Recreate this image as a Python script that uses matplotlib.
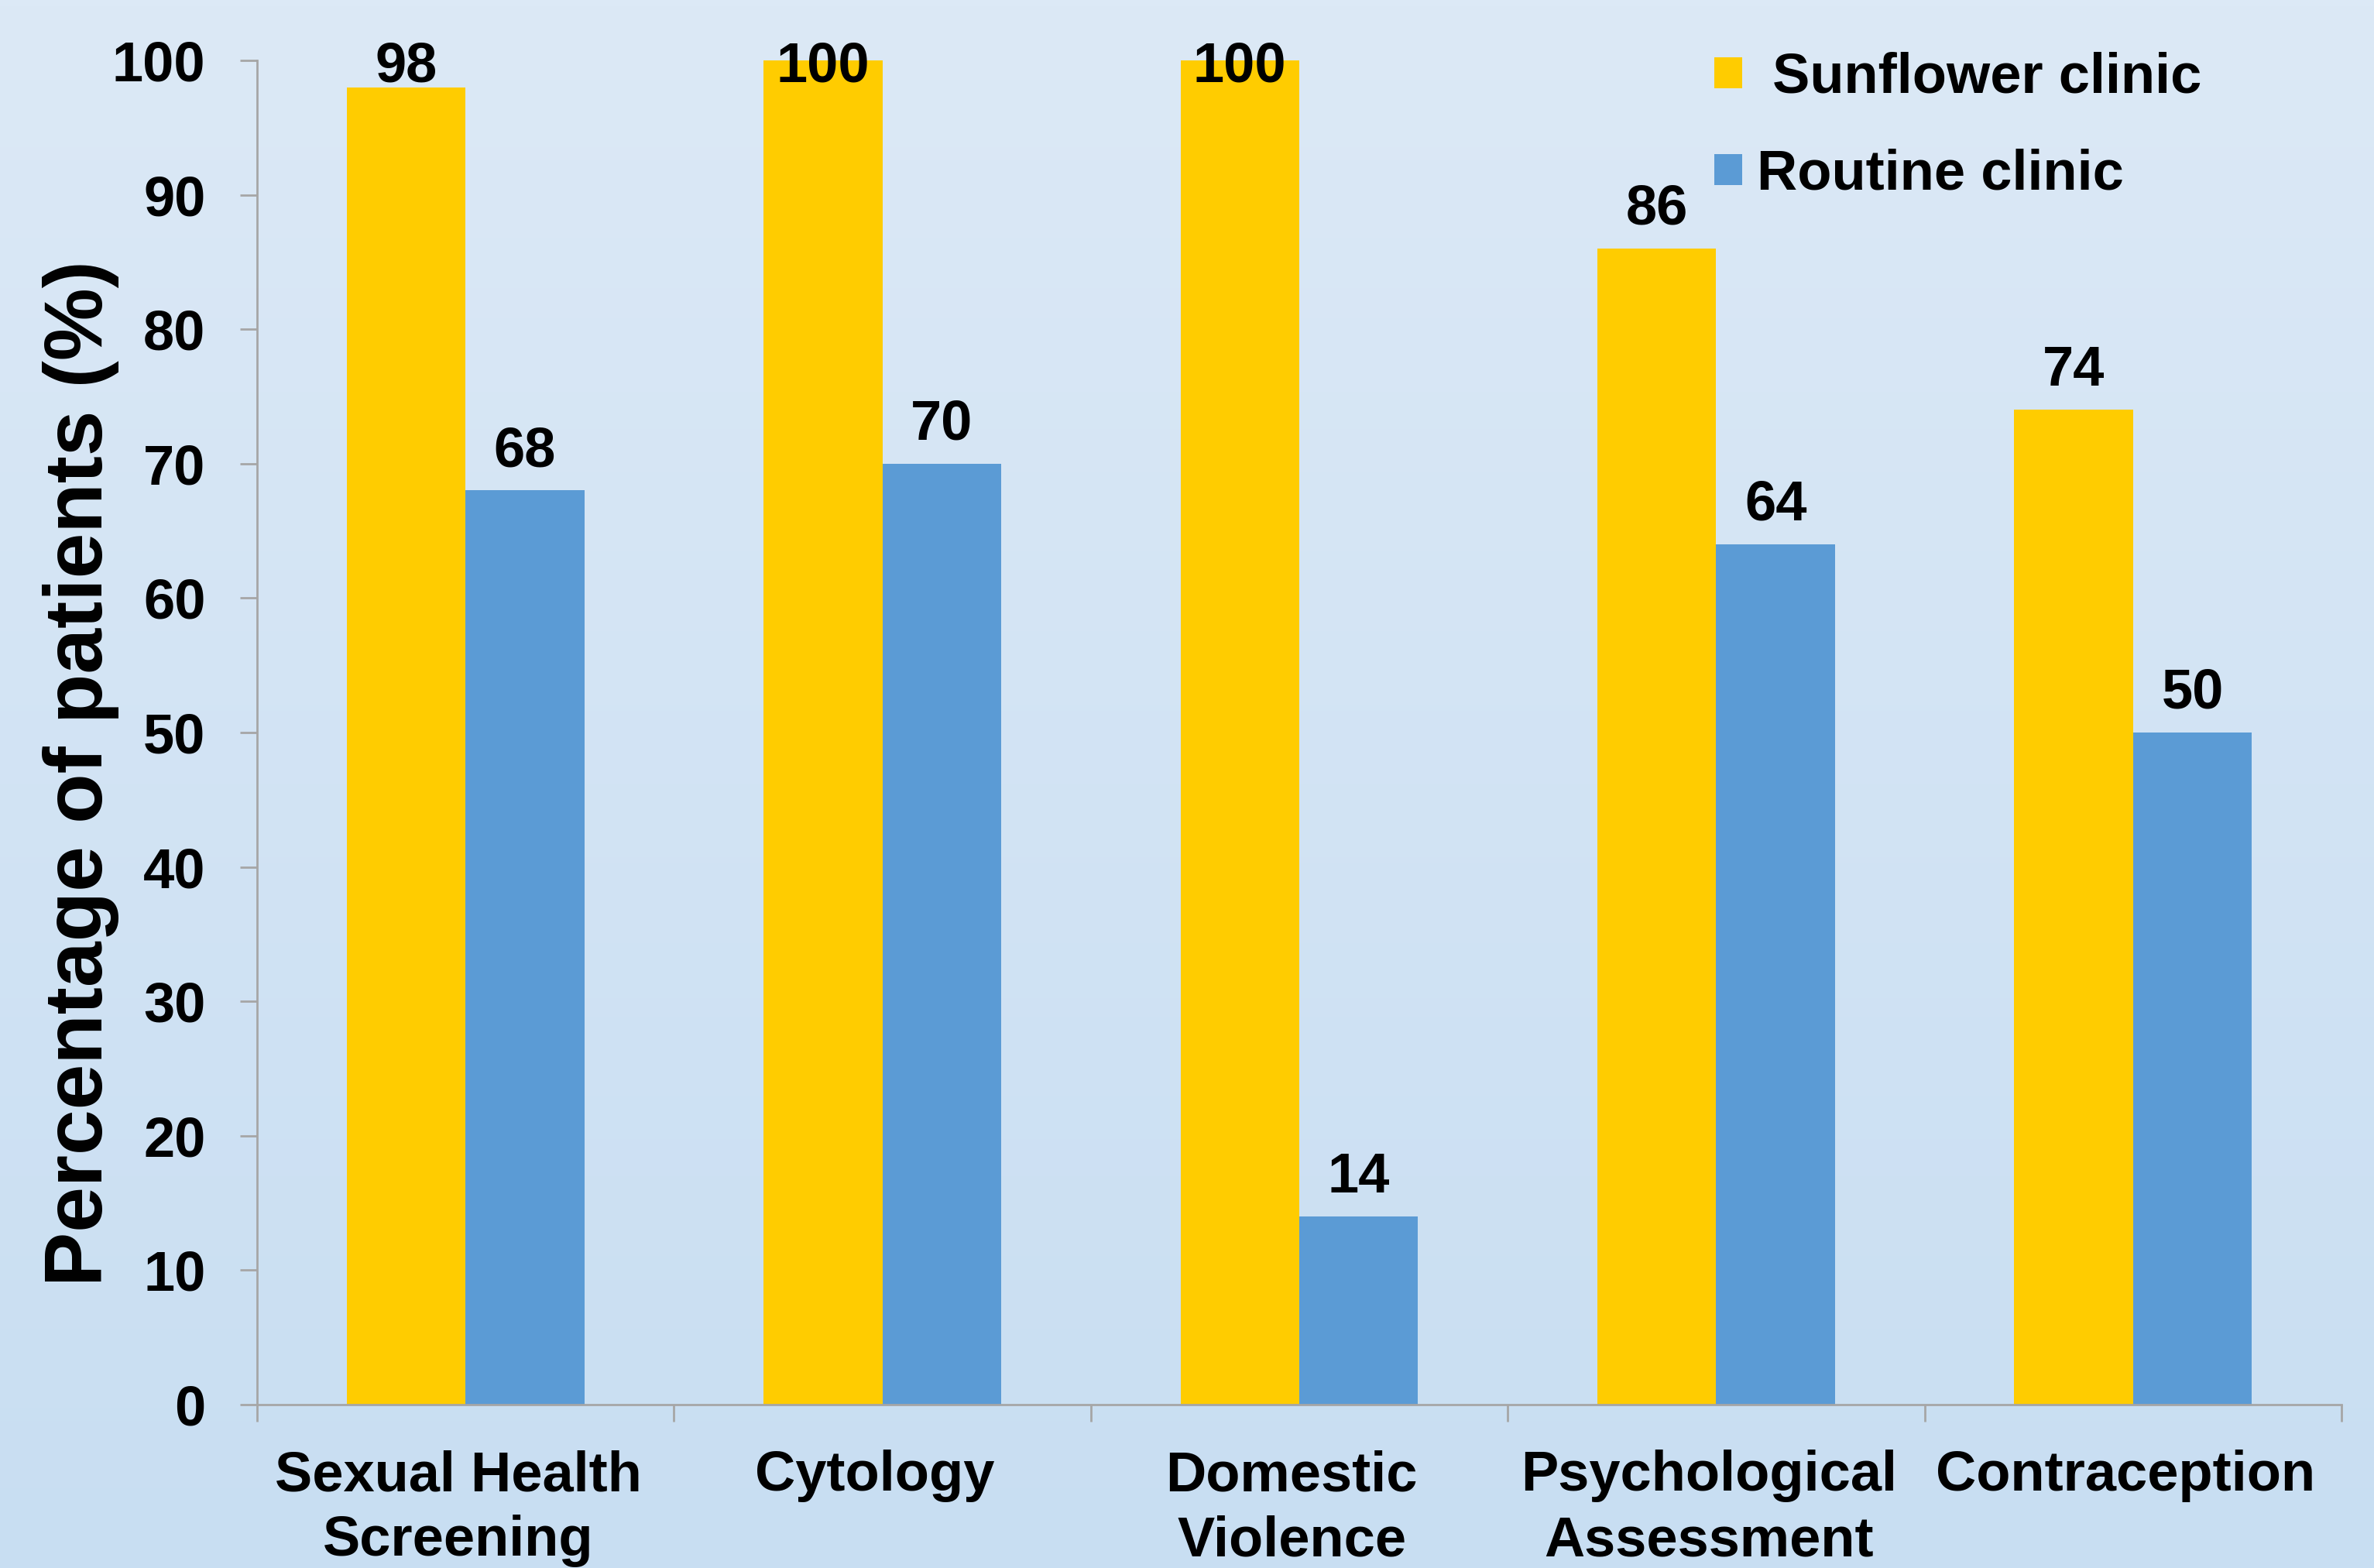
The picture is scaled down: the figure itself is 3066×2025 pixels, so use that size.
import matplotlib
matplotlib.use("Agg")
import matplotlib.pyplot as plt
import numpy as np

# datos
categorias = ["Sexual Health\nScreening", "Cytology", "Domestic\nViolence",
              "Psychological\nAssessment", "Contraception"]
sunflower = [98, 100, 100, 86, 74]
routine = [68, 70, 14, 64, 50]
y_ticks = [0, 10, 20, 30, 40, 50, 60, 70, 80, 90, 100]

amarillo = "#FFCC00"
azul = "#5B9BD5"
gris = "#A6A6A6"

plt.rcParams["font.family"] = ["Liberation Sans", "DejaVu Sans"]
plt.rcParams["font.weight"] = "bold"

fig = plt.figure(figsize=(15.33, 10.125), dpi=200)

# fondo degradado azul claro
fondo = fig.add_axes([0, 0, 1, 1], zorder=-10)
grad = np.linspace(0, 1, 256).reshape(-1, 1)
top = np.array([220, 233, 246]) / 255
bot = np.array([200, 222, 242]) / 255
img = top + (bot - top) * grad[:, :, None]
fondo.imshow(img, aspect="auto", extent=[0, 1, 0, 1])
fondo.axis("off")

ax = fig.add_axes([0.1083, 0.1042, 0.878, 0.8573])
ax.set_facecolor("none")

x = np.arange(len(categorias))
w = 0.285
ax.bar(x - w / 2, sunflower, w, color=amarillo, label=" Sunflower clinic")
ax.bar(x + w / 2, routine, w, color=azul, label="Routine clinic")

for xi, v in zip(x - w / 2, sunflower):
    ax.text(xi, min(v + 2.9, 99.5), str(v), ha="center", va="center",
            fontsize=26, fontweight="bold", clip_on=False)
for xi, v in zip(x + w / 2, routine):
    ax.text(xi, min(v + 2.9, 99.5), str(v), ha="center", va="center",
            fontsize=26, fontweight="bold", clip_on=False)

ax.set_xlim(-0.5, len(categorias) - 0.5)
ax.set_ylim(0, 100)
ax.set_yticks(y_ticks)
ax.set_yticklabels([str(t) for t in y_ticks], fontsize=26, fontweight="bold")

# las etiquetas del original estan un poco corridas a la izquierda
ax.set_xticks(x - 0.018)
ax.set_xticklabels(categorias, fontsize=26, fontweight="bold", linespacing=1.3)
ax.set_xticks(np.arange(len(categorias) + 1) - 0.5, minor=True)
ax.tick_params(axis="x", which="major", length=0, pad=21)
ax.tick_params(axis="x", which="minor", length=8, width=1, color=gris)
ax.tick_params(axis="y", length=8, width=1, color=gris, pad=16)

for lado in ["top", "right"]:
    ax.spines[lado].set_visible(False)
for lado in ["left", "bottom"]:
    ax.spines[lado].set_color(gris)
    ax.spines[lado].set_linewidth(1)

fig.text(0.034, 0.507, "Percentage of patients (%)", rotation=90,
         ha="center", va="center", fontsize=38, fontweight="bold")

leg = ax.legend(loc="upper left", bbox_to_anchor=(0.675, 1.044), frameon=False,
                fontsize=26, handlelength=0.49, handleheight=0.49,
                handletextpad=0.27, labelspacing=0.79)
for t in leg.get_texts():
    t.set_fontweight("bold")

fig.savefig("out.png", dpi=200)
